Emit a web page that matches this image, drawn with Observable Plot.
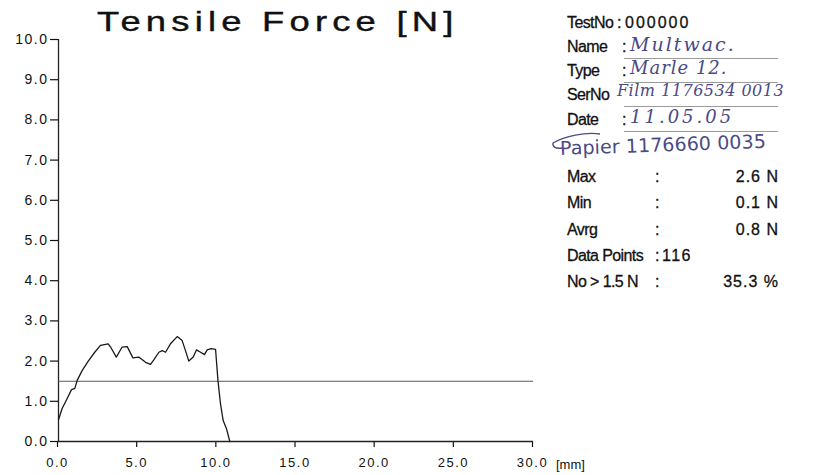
<!DOCTYPE html>
<html>
<head>
<meta charset="utf-8">
<script src="https://cdn.jsdelivr.net/npm/d3@7"></script>
<script src="https://cdn.jsdelivr.net/npm/@observablehq/plot@0.6"></script>
<style>
  html, body { margin: 0; padding: 0; background: #fff; }
  #wrap { position: relative; width: 829px; height: 475px; overflow: hidden; font-family: "Liberation Sans", Arial, sans-serif; color: #111; }
  #chart { position: absolute; left: 0; top: 0; }
  #chart svg text { letter-spacing: 1.5px; }
  .title { position: absolute; left: 97px; top: 6px; font-size: 28px; letter-spacing: 4px; transform: scaleX(1.3); transform-origin: left top; white-space: nowrap; color: #111; -webkit-text-stroke: 0.4px #111; }
  .unit { position: absolute; left: 556px; top: 457px; font-size: 13px; }
  .info { position: absolute; font-size: 16px; letter-spacing: -0.6px; white-space: nowrap; -webkit-text-stroke: 0.3px #111; }
  .num { letter-spacing: 1px; }
  .hand { position: absolute; font-family: "DejaVu Serif", serif; font-style: italic; color: #4a4a86; white-space: nowrap; }
  .uline { position: absolute; height: 1px; background: #9a9a9a; }
</style>
</head>
<body>
<div id="wrap">
  <div id="chart"></div>
</div>
<script>
// ---- data ----
const distanceMm = [0, 0.23, 0.55, 0.82, 1.03, 1.18, 1.5, 1.88, 2.29, 2.65, 3.14, 3.29, 3.65, 4.02, 4.34, 4.70, 5.07, 5.5, 5.81, 6.02, 6.34, 6.55, 6.76, 7.07, 7.5, 7.81, 8.02, 8.23, 8.51, 8.72, 8.97, 9.22, 9.39, 9.64, 9.92, 10.07, 10.23, 10.4, 10.61, 10.82];
const forceN     = [0.54, 0.82, 1.07, 1.29, 1.32, 1.52, 1.77, 2.0, 2.22, 2.39, 2.43, 2.35, 2.10, 2.35, 2.36, 2.08, 2.10, 1.97, 1.92, 2.03, 2.22, 2.26, 2.22, 2.43, 2.61, 2.51, 2.26, 2.0, 2.10, 2.28, 2.22, 2.16, 2.28, 2.31, 2.29, 1.52, 0.94, 0.52, 0.32, 0.0];
const thresholdN = 1.5;
const xTicks = [0, 5, 10, 15, 20, 25, 30];
const yTicks = [0, 1, 2, 3, 4, 5, 6, 7, 8, 9, 10];

const headerLabels = ["TestNo", "Name", "Type", "SerNo", "Date"];
const handValues = ["Multwac.", "Marle 12.", "Film 1176534 0013", "11.05.05"];
const noteText = "Papier 1176660 0035";
const statLabels = ["Max", "Min", "Avrg", "Data Points", "No > 1.5 N"];
const statValues = ["2.6 N", "0.1 N", "0.8 N", "116", "35.3 %"];

const data = distanceMm.map((d, i) => ({ x: d, y: forceN[i] }));

const chart = Plot.plot({
  width: 829,
  height: 475,
  marginLeft: 58,
  marginRight: 296,
  marginTop: 39,
  marginBottom: 34,
  style: { fontFamily: "'Liberation Sans', Arial, sans-serif", fontSize: "12px", background: "transparent", color: "#111" },
  x: { domain: [0, 30] },
  y: { domain: [0, 10] },
  marks: [
    Plot.axisY({ ticks: yTicks, tickFormat: d3.format(".1f"), tickSize: 8, tickPadding: 2, label: null, fontSize: 14, strokeWidth: 1.2 }),
    Plot.axisX({ ticks: xTicks, tickFormat: d3.format(".1f"), tickSize: 6, tickPadding: 10, dx: -1, label: null, fontSize: 13, strokeWidth: 1.2 }),
    Plot.ruleX([0], { stroke: "#222", strokeWidth: 1.3 }),
    Plot.ruleY([0], { stroke: "#222", strokeWidth: 1.3 }),
    Plot.ruleY([thresholdN], { stroke: "#5a5a5a", strokeWidth: 1.1 }),
    Plot.line(data, { x: "x", y: "y", stroke: "#1a1a1a", strokeWidth: 1.3 })
  ]
});
const wrap = document.getElementById("wrap");
document.getElementById("chart").appendChild(chart);

function add(cls, text, css) {
  const el = document.createElement("div");
  el.className = cls;
  el.textContent = text;
  Object.assign(el.style, css);
  wrap.appendChild(el);
  return el;
}

add("title", "Tensile Force [N]", {});
add("unit", "[mm]", {});

// header block
const headerTops = [14, 38, 62, 86, 111];
headerLabels.forEach((lab, i) => {
  add("info", lab, { left: "567px", top: headerTops[i] + "px" });
});
add("info", ":", { left: "617px", top: headerTops[0] + "px" });
add("info num", "000000", { left: "625px", top: headerTops[0] + "px", letterSpacing: "2px" });
const handSizes = ["19px", "18px", "16px", "18px"];
const handSpacing = ["2px", "1px", "0.5px", "3px"];
handValues.forEach((v, i) => {
  const top = headerTops[i + 1];
  if (i !== 2) add("info", ":", { left: "622px", top: top + "px" });
  add("hand", v, { left: (i !== 2 ? 630 : 617) + "px", top: (top - 5) + "px", fontSize: handSizes[i], letterSpacing: handSpacing[i] });
  add("uline", "", { left: "624px", top: (top + 20) + "px", width: "154px" });
});
add("hand", noteText, { left: "560px", top: "137px", fontSize: "19px", fontStyle: "normal", fontFamily: "'DejaVu Sans', sans-serif", letterSpacing: "0.1px", transform: "rotate(-2deg)", transformOrigin: "left center" });

// small hand-drawn arrow pointing at "Date"
const ns = "http://www.w3.org/2000/svg";
const arr = document.createElementNS(ns, "svg");
arr.setAttribute("width", "829"); arr.setAttribute("height", "475");
arr.style.position = "absolute"; arr.style.left = "0"; arr.style.top = "0";
const p = document.createElementNS(ns, "path");
p.setAttribute("d", "M600,134 C585,132 565,136 553,143 C552,147 556,149 562,148");
p.setAttribute("fill", "none"); p.setAttribute("stroke", "#4a4a86"); p.setAttribute("stroke-width", "1.3");
arr.appendChild(p);
wrap.appendChild(arr);

// stats block
const statTops = [168, 194, 221, 247, 273];
statLabels.forEach((lab, i) => {
  const top = statTops[i];
  add("info", lab, { left: "567px", top: top + "px" });
  add("info", ":", { left: "655px", top: top + "px" });
  if (lab === "Data Points") {
    add("info num", statValues[i], { left: "662px", top: top + "px", letterSpacing: "1.5px" });
  } else {
    add("info num", statValues[i], { right: (829 - 779) + "px", top: top + "px" });
  }
});
</script>
</body>
</html>
